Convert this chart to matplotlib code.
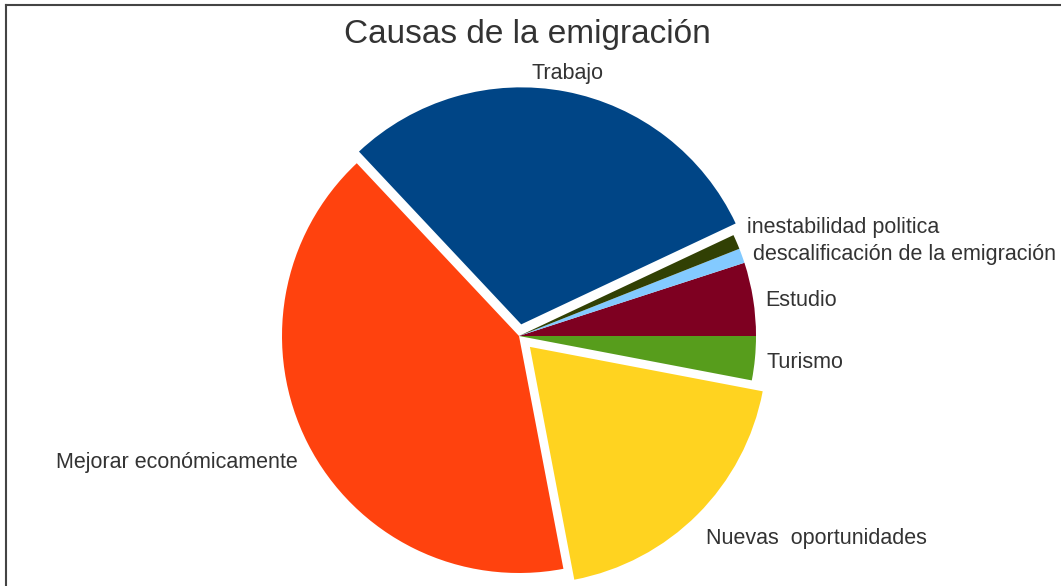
import numpy as np
import matplotlib
matplotlib.use("Agg")
import matplotlib.pyplot as plt
from matplotlib.lines import Line2D

plt.rcParams['font.family'] = ['Liberation Sans', 'DejaVu Sans']

# data (percent)
labels = ['Trabajo', 'Mejorar económicamente', 'Nuevas  oportunidades',
          'Turismo', 'Estudio', 'descalificación de la emigración',
          'inestabilidad politica']
values = [30, 41, 19, 3, 5, 1, 1]
colors = ['#004586', '#ff420e', '#ffd320', '#579d1c', '#7e0021',
          '#83caff', '#314004']
explode = [0.05, 0, 0.065, 0, 0, 0, 0]

fig = plt.figure(figsize=(10.61, 5.86), dpi=100)
ax = fig.add_axes([0, 0, 1, 1])

wedges, _ = ax.pie(values, colors=colors, explode=explode, startangle=25.2,
                   counterclock=True, radius=1, center=(0, 0),
                   wedgeprops=dict(linewidth=0))

px = 237.0
# label nudges (y, in radius units) to mimic the original placement
nudge = {'inestabilidad politica': 0.052, 'Trabajo': -0.004,
         'Nuevas  oportunidades': -0.01}

for w, lab, ex in zip(wedges, labels, explode):
    th = np.deg2rad((w.theta1 + w.theta2) / 2)
    c, s = np.cos(th), np.sin(th)
    r = 1.05 + ex
    ha = 'left' if c > 0.3 else ('right' if c < -0.3 else 'center')
    va = 'bottom' if s > 0.5 else ('top' if s < -0.4 else 'center')
    ax.text(r * c, r * s - 3 / px + nudge.get(lab, 0), lab, ha=ha, va=va,
            fontsize=15.5, color='#333333')

# keep pie centre / radius where the original has it
ax.set_xlim(-519 / px, (1061 - 519) / px)
ax.set_ylim(-(586 - 336) / px, 336 / px)
ax.set_aspect('equal')
ax.axis('off')

fig.text(527 / 1061, 1 - 35 / 586, 'Causas de la emigración', ha='center',
         va='center', fontsize=24, color='#333333')

# frame lines on the top and left edges
fig.add_artist(Line2D([6 / 1061, 6 / 1061], [0, 1 - 5 / 586],
                      transform=fig.transFigure, color='#444444', lw=1.5))
fig.add_artist(Line2D([6 / 1061, 1], [1 - 5 / 586, 1 - 5 / 586],
                      transform=fig.transFigure, color='#444444', lw=1.5))

fig.savefig('out.png', dpi=100)
